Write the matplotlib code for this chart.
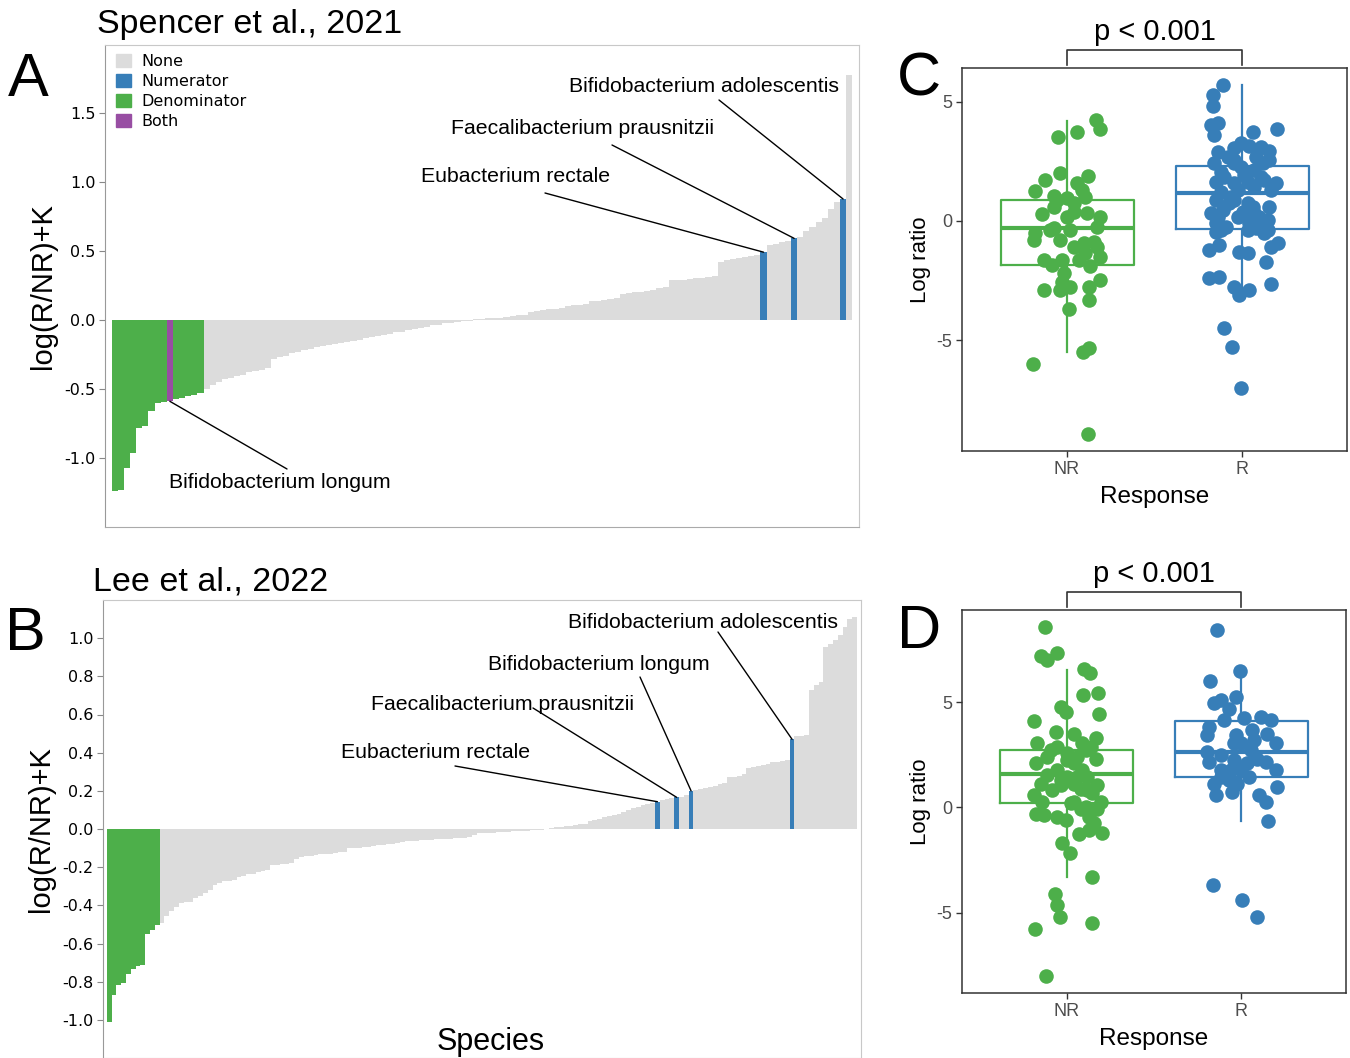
import numpy as np
import matplotlib
matplotlib.use("Agg")
import matplotlib.pyplot as plt
from matplotlib.patches import Patch
from matplotlib import transforms

plt.rcParams['font.family'] = ['Liberation Sans', 'DejaVu Sans']

# ---- data: panel A (Spencer et al., 2021), sorted log ratios per species
a_values = [
    -1.24, -1.23, -1.075, -0.967, -0.78, -0.77, -0.66, -0.60, -0.594, -0.59,
    -0.575, -0.565, -0.555, -0.545, -0.53,
    -0.50, -0.47, -0.45, -0.43, -0.42, -0.41, -0.40, -0.38, -0.37, -0.36,
    -0.35, -0.285, -0.27, -0.26, -0.24, -0.23, -0.22, -0.21, -0.20, -0.19,
    -0.185, -0.175, -0.17, -0.16, -0.155, -0.145, -0.135, -0.125, -0.12, -0.11,
    -0.10, -0.09, -0.085, -0.075, -0.065, -0.06, -0.05, -0.04, -0.035, -0.025,
    -0.02, -0.015, -0.01, -0.005,
    0.003, 0.006, 0.01, 0.012, 0.015, 0.02, 0.025, 0.035, 0.038, 0.06,
    0.065, 0.07, 0.075, 0.08, 0.085, 0.10, 0.105, 0.11, 0.115, 0.135,
    0.14, 0.145, 0.15, 0.155, 0.19, 0.195, 0.20, 0.205, 0.21, 0.215,
    0.23, 0.235, 0.285, 0.29, 0.29, 0.295, 0.30, 0.305, 0.31, 0.315,
    0.42, 0.43, 0.44, 0.45, 0.455, 0.46, 0.47, 0.49, 0.545, 0.55,
    0.56, 0.57, 0.59, 0.60, 0.64, 0.67, 0.71, 0.74, 0.80, 0.855,
    0.875, 1.77]
a_denominator = [0, 1, 2, 3, 4, 5, 6, 7, 8, 10, 11, 12, 13, 14]
a_numerator = [106, 111, 119]
a_both = [9]
a_labels = {106: "Eubacterium rectale", 111: "Faecalibacterium prausnitzii",
            119: "Bifidobacterium adolescentis", 9: "Bifidobacterium longum"}

# ---- data: panel B (Lee et al., 2022)
b_values = [
    -1.01, -0.87, -0.82, -0.805, -0.76, -0.735, -0.72, -0.715, -0.55, -0.53, -0.505,
    -0.494, -0.454, -0.43, -0.407, -0.389, -0.385, -0.38, -0.363, -0.349, -0.335,
    -0.319, -0.293, -0.285, -0.272, -0.27, -0.268, -0.25, -0.245, -0.236, -0.234,
    -0.223, -0.22, -0.215, -0.19, -0.187, -0.185, -0.183, -0.18, -0.157, -0.145,
    -0.141, -0.14, -0.138, -0.133, -0.132, -0.13, -0.124, -0.122, -0.12, -0.101,
    -0.10, -0.098, -0.096, -0.094, -0.09, -0.084, -0.082, -0.08, -0.078, -0.075,
    -0.066, -0.065, -0.063, -0.061, -0.06, -0.058, -0.057, -0.055, -0.053, -0.052,
    -0.05, -0.049, -0.048, -0.046, -0.04, -0.03, -0.023,
    -0.021, -0.02, -0.019, -0.018, -0.016, -0.015, -0.013, -0.012, -0.01, -0.008,
    -0.006, -0.005, -0.003, -0.001,
    0.005, 0.008, 0.012, 0.014, 0.018, 0.021, 0.024, 0.027, 0.04, 0.047,
    0.05, 0.065, 0.068, 0.072, 0.076, 0.09, 0.10, 0.11, 0.115, 0.125,
    0.13, 0.138, 0.143, 0.15, 0.155, 0.16, 0.166, 0.17, 0.178, 0.20,
    0.205, 0.21, 0.215, 0.22, 0.225, 0.235, 0.24, 0.27, 0.275, 0.28,
    0.29, 0.32, 0.325, 0.33, 0.335, 0.34, 0.35, 0.352, 0.355, 0.36,
    0.47, 0.485, 0.487, 0.49, 0.73, 0.755, 0.77, 0.955, 0.97, 0.99,
    1.015, 1.06, 1.10, 1.11]
b_denominator = [0, 1, 2, 3, 4, 5, 6, 7, 8, 9, 10]
b_numerator = [114, 118, 121, 142]
b_both = []
b_labels = {114: "Eubacterium rectale", 118: "Faecalibacterium prausnitzii",
            121: "Bifidobacterium longum", 142: "Bifidobacterium adolescentis"}

# ---- data: panel C, log ratio per sample (jitter offset, value)
c_nr_jit = [0.168, 0.187, -0.052, 0.057, -0.042, -0.124, 0.119, -0.182, 0.057, 0.086,
            -0.073, 0.0, 0.105, -0.143, -0.073, 0.038, 0.115, 0.191, 0.172, -0.182,
            -0.191, -0.073, -0.038, 0.019, 0.096, 0.172, 0.187, -0.134, -0.086, -0.029,
            0.067, 0.134, -0.019, 0.191, -0.029, 0.019, 0.124, -0.13, -0.038, 0.124,
            0.013, 0.124, 0.092, -0.197, 0.12, -0.10, 0.038, 0.105,
            0.0, -0.057, 0.038, 0.153]
c_nr_val = [4.24, 3.86, 3.51, 3.71, 2.03, 1.72, 1.89, 1.26, 1.58, 1.30,
            1.05, 0.95, 1.02, 0.29, 0.60, 0.74, 0.32, 0.18, -0.24, -0.52,
            -0.80, -0.31, -0.80, -0.38, -0.94, -1.08, -1.50, -1.64, -1.85, -1.64,
            -1.64, -1.89, -2.20, -2.48, -2.55, -2.76, -2.76, -2.90, -2.90, -3.31,
            -3.71, -5.34, -5.48, -6.01, -8.94, -0.38, 0.39, -1.36,
            0.18, 0.88, -1.08, -0.87]
c_r_jit = [-0.107, -0.168, -0.164, -0.178, -0.14, -0.159, 0.061, 0.199, -0.006, -0.044,
           0.042, 0.157, -0.14, -0.082, 0.08, -0.159, -0.044, 0.119, 0.157, -0.12,
           -0.006, 0.109, -0.149, -0.044, 0.033, 0.195, 0.166, -0.12, -0.025, 0.071,
           -0.149, -0.063, 0.033, 0.157, -0.111, -0.178, 0.004, 0.071, 0.147, -0.149,
           -0.092, 0.042, 0.109, 0.147, -0.149, 0.08, 0.205, -0.13, -0.187, -0.015,
           0.033, 0.166, 0.138, -0.187, -0.13, -0.044, 0.042, -0.015, 0.166, -0.105,
           -0.057, -0.006,
           -0.044, 0.071, 0.109, -0.101, 0.013, 0.128, -0.073, 0.061, 0.099, -0.025,
           -0.14, 0.128, -0.12, 0.033, -0.044]
c_r_val = [5.71, 5.29, 4.80, 4.03, 4.10, 3.61, 3.71, 3.86, 3.26, 3.05,
           3.15, 2.95, 2.87, 2.70, 2.70, 2.42, 2.42, 2.42, 2.56, 2.07,
           2.28, 1.86, 1.65, 1.58, 1.65, 1.61, 1.30, 1.23, 1.30, 1.44,
           0.88, 1.02, 0.74, 0.60, 0.46, 0.32, 0.39, 0.32, 0.04, -0.10,
           -0.24, -0.10, -0.17, -0.38, -0.45, -0.31, -0.94, -1.01, -1.22, -1.29,
           -1.36, -1.08, -1.71, -2.41, -2.34, -2.76, -2.90, -3.10, -2.64, -4.48,
           -5.27, -7.02,
           2.56, 2.14, 3.12, 1.86, 1.93, 1.72, 0.74, 0.60, 0.18, 0.18,
           0.18, -0.52, -0.38, -0.38, 0.88]
# box stats: whislo, q1, med, q3, whishi
c_nr_box = [-5.48, -1.85, -0.31, 0.88, 4.17]
c_r_box = [-3.10, -0.34, 1.16, 2.31, 5.71]

# ---- data: panel D
d_nr_jit = [-0.124, -0.149, -0.111, -0.053, 0.099, 0.134, 0.095, 0.179, -0.034, -0.006,
            0.185, -0.187, -0.063, 0.042, 0.166, -0.168, -0.053, 0.09, 0.137, 0.004,
            -0.111, 0.166, -0.177, 0.042, -0.053, 0.09, -0.111, 0.004, 0.118, -0.149,
            -0.034, 0.176, 0.042, 0.08, -0.187, -0.139, 0.147, 0.195, 0.042, 0.109,
            0.176, -0.177, -0.13, -0.053, -0.006, 0.128, 0.156, 0.071, 0.128, 0.2,
            -0.025, 0.019, 0.147, -0.067, -0.053, -0.038, -0.183, 0.147, -0.12,
            0.004, 0.061, -0.034, 0.061, -0.082, 0.118, 0.023, 0.08, -0.092, 0.109]
d_nr_val = [8.60, 7.22, 7.02, 7.37, 6.59, 6.38, 5.35, 5.43, 4.76, 4.56,
            4.43, 4.11, 3.60, 3.49, 3.29, 3.05, 2.89, 3.05, 2.89, 2.57,
            2.41, 2.33, 2.10, 2.10, 1.78, 1.78, 1.54, 1.46, 1.46, 1.14,
            1.06, 1.06, 1.14, 0.90, 0.59, 0.27, 0.67, 0.27, 0.27, 0.03,
            -0.05, -0.29, -0.37, -0.44, -0.60, -0.44, -0.76, -1.24, -1.08, -1.21,
            -1.68, -2.19, -3.33, -4.10, -4.65, -5.21, -5.76, -5.48, -8.03,
            2.25, 2.41, 1.30, 1.46, 0.83, 0.83, 0.19, -0.05, 2.73, 2.73]
d_r_jit = [-0.141, -0.008, -0.179, -0.156, -0.118, -0.032, -0.071, -0.099, 0.015, 0.111,
           0.168, -0.185, -0.032, -0.195, 0.063, 0.149, -0.004, 0.197, 0.053, -0.195,
           -0.118, 0.092, -0.042, -0.185, 0.139, -0.118, -0.004, 0.197, -0.156, -0.071,
           0.044, -0.147, -0.052, 0.206, 0.101, 0.139, 0.153, -0.162, 0.006, 0.092,
           -0.042, 0.073, 0.034, -0.061, -0.023, -0.118]
d_r_val = [8.44, 6.51, 6.03, 4.95, 5.11, 5.27, 4.71, 4.16, 4.24, 4.32,
           4.16, 3.84, 3.44, 3.44, 3.68, 3.52, 3.05, 3.05, 2.73, 2.65,
           2.49, 2.33, 2.25, 2.17, 2.17, 1.78, 1.78, 1.78, 1.14, 1.30,
           1.46, 0.59, 0.75, 0.98, 0.59, 0.27, -0.65, -3.67, -4.38, -5.21,
           3.05, 3.21, 2.10, 1.78, 1.14, 1.46]
d_nr_box = [-3.30, 0.19, 1.59, 2.73, 6.54]
d_r_box = [-0.65, 1.46, 2.65, 4.13, 6.30]

groups = ["NR", "R"]

GRAY = '#dcdcdc'
BLUE = '#377eb8'
GREEN = '#4daf4a'
PURPLE = '#984ea3'

W, H = 1350, 1058


def px(x, y):
    # pixel position (from top-left) to figure fraction
    return (x / W, 1 - y / H)


def axes_px(left, top, right, bottom):
    return [left / W, 1 - bottom / H, (right - left) / W, (bottom - top) / H]


fig = plt.figure(figsize=(13.5, 10.58), dpi=100)


def bar_panel(ax, values, denom, numer, both, ylim, xpad, ticks):
    cols = [GRAY] * len(values)
    for i in denom:
        cols[i] = GREEN
    for i in numer:
        cols[i] = BLUE
    for i in both:
        cols[i] = PURPLE
    x = np.arange(len(values))
    ax.bar(x, values, width=1.0, color=cols, linewidth=0, antialiased=False)
    ax.set_xlim(-0.5 - xpad[0], len(values) - 0.5 + xpad[1])
    ax.set_ylim(*ylim)
    ax.set_xticks([])
    ax.set_yticks(ticks)
    ax.set_yticklabels([f"{t:.1f}" for t in ticks], family='DejaVu Sans', fontsize=11.5)
    ax.tick_params(axis='y', length=4, color='#888888', pad=3)
    for s in ['top', 'right', 'bottom']:
        ax.spines[s].set_color('#c8c8c8')
    ax.spines['left'].set_color('#999999')
    ax.set_ylabel("log(R/NR)+K", fontsize=21, labelpad=5)


# ---- panel A
axA = fig.add_axes(axes_px(105, 45, 859, 527))
bar_panel(axA, a_values, a_denominator, a_numerator, a_both, (-1.5, 1.99), (1.1, 1.1),
          [-1.0, -0.5, 0.0, 0.5, 1.0, 1.5])
axA.spines['bottom'].set_color('#aaaaaa')
handles = [Patch(color=GRAY, label='None'), Patch(color=BLUE, label='Numerator'),
           Patch(color=GREEN, label='Denominator'), Patch(color=PURPLE, label='Both')]
axA.legend(handles=handles, loc='upper left', frameon=False, handlelength=0.9,
           handleheight=0.9, handletextpad=0.7, labelspacing=0.3,
           prop={'family': 'DejaVu Sans', 'size': 11.5}, borderaxespad=0.3,
           bbox_to_anchor=(0.0, 1.005))
a_text_pos = {119: (839, 86, 'right'), 111: (714, 129, 'right'),
              106: (610, 177, 'right'), 9: (169, 483, 'left')}
a_line_start = {119: (719, 100), 111: (612, 145), 106: (545, 193), 9: (287, 469)}
for i, name in a_labels.items():
    tx, ty, ha = a_text_pos[i]
    fig.text(*px(tx, ty), name, ha=ha, va='center', fontsize=15.3)
    axA.annotate('', xy=(i, a_values[i]), xycoords='data',
                 xytext=px(*a_line_start[i]), textcoords='figure fraction',
                 arrowprops=dict(arrowstyle='-', lw=1.0, color='black',
                                 shrinkA=0, shrinkB=0))
fig.text(*px(97, 25), "Spencer et al., 2021", fontsize=24.5, va='center', ha='left')
fig.text(*px(28, 80), "A", fontsize=44, va='center', ha='center')

# ---- panel B
axB = fig.add_axes(axes_px(103, 600, 861, 1058))
bar_panel(axB, b_values, b_denominator, b_numerator, b_both, (-1.2, 1.2), (0.77, 0.83),
          [-1.0, -0.8, -0.6, -0.4, -0.2, 0.0, 0.2, 0.4, 0.6, 0.8, 1.0])
b_text_pos = {142: (838, 623), 121: (710, 665), 118: (634, 704), 114: (530, 752)}
b_line_start = {142: (718, 632), 121: (640, 677), 118: (533, 708), 114: (455, 766)}
for i, name in b_labels.items():
    tx, ty = b_text_pos[i]
    fig.text(*px(tx, ty), name, ha='right', va='center', fontsize=15.3)
    axB.annotate('', xy=(i, b_values[i]), xycoords='data',
                 xytext=px(*b_line_start[i]), textcoords='figure fraction',
                 arrowprops=dict(arrowstyle='-', lw=1.0, color='black',
                                 shrinkA=0, shrinkB=0))
fig.text(*px(93, 582), "Lee et al., 2022", fontsize=24.5, va='center', ha='left')
fig.text(*px(25, 635), "B", fontsize=44, va='center', ha='center')
fig.text(*px(491, 1042), "Species", fontsize=22, va='center', ha='center')


# ---- panels C and D
def box_panel(ax, nr_jit, nr_val, r_jit, r_val, nr_box, r_box, ylim, yticks, letter, lpos):
    cols = [GREEN, BLUE]
    for k, (jit, val, bx) in enumerate([(nr_jit, nr_val, nr_box), (r_jit, r_val, r_box)]):
        stats = [dict(whislo=bx[0], q1=bx[1], med=bx[2], q3=bx[3], whishi=bx[4], fliers=[])]
        c = cols[k]
        ax.bxp(stats, positions=[k], widths=0.76, showfliers=False, patch_artist=False,
               boxprops=dict(color=c, lw=1.6), whiskerprops=dict(color=c, lw=1.6),
               capprops=dict(lw=0), medianprops=dict(color=c, lw=3.0), zorder=2)
        ax.scatter(k + np.array(jit), val, s=110, color=c, linewidths=0, zorder=3)
    ax.set_xlim(-0.6, 1.6)
    ax.set_ylim(*ylim)
    ax.set_xticks([0, 1])
    ax.set_xticklabels(groups)
    ax.set_yticks(yticks)
    ax.set_yticklabels([str(t) for t in yticks])
    ax.tick_params(length=4, width=1, color='#333333', labelcolor='#4d4d4d',
                   labelsize=13, pad=3)
    for s in ax.spines.values():
        s.set_color('#333333')
        s.set_linewidth(1.1)
    ax.set_ylabel("Log ratio", fontsize=16, labelpad=4)
    ax.set_xlabel("Response", fontsize=17.5, labelpad=6)
    tr = transforms.blended_transform_factory(ax.transData, ax.transAxes)
    ax.plot([0, 0, 1, 1], [1.008, 1.047, 1.047, 1.008], color='#333333', lw=1.2,
            transform=tr, clip_on=False)
    ax.text(0.5, 1.094, "p < 0.001", transform=tr, ha='center', va='center', fontsize=21)
    fig.text(*px(*lpos), letter, fontsize=44, va='center', ha='center')


axC = fig.add_axes(axes_px(962, 68, 1347, 451))
box_panel(axC, c_nr_jit, c_nr_val, c_r_jit, c_r_val, c_nr_box, c_r_box,
          (-9.64, 6.41), [-5, 0, 5], "C", (919, 80))
axD = fig.add_axes(axes_px(962, 610, 1346, 993))
box_panel(axD, d_nr_jit, d_nr_val, d_r_jit, d_r_val, d_nr_box, d_r_box,
          (-8.83, 9.40), [-5, 0, 5], "D", (919, 633))

fig.savefig("out.png", dpi=100)
